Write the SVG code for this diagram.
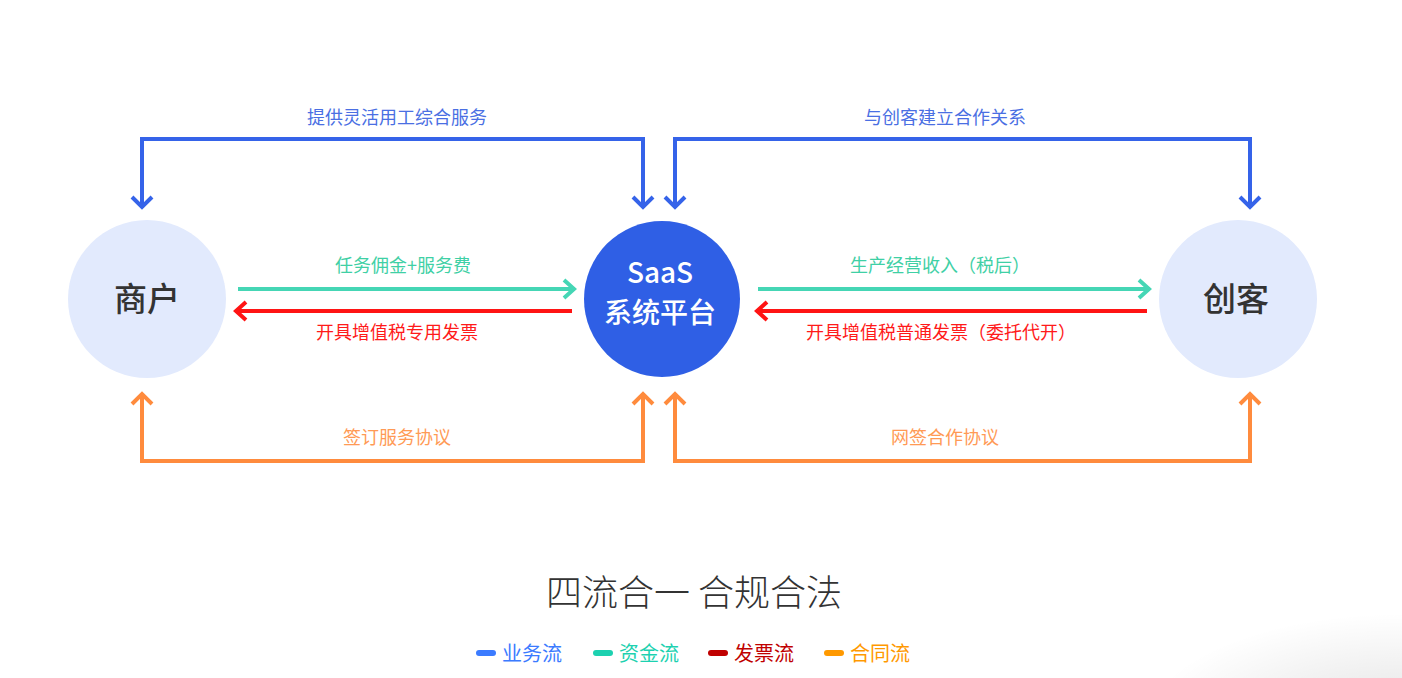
<svg xmlns="http://www.w3.org/2000/svg" width="1402" height="678" viewBox="0 0 1402 678">
<style>
.lbl{font-family:"Noto Sans CJK SC","Noto Sans",sans-serif;font-size:18px;text-anchor:middle}
.node{font-family:"Noto Sans CJK SC","Noto Sans",sans-serif;text-anchor:middle}
.ln{fill:none;stroke-width:4;stroke-linejoin:miter}
.blue{stroke:#3563e9}
.teal{stroke:#45d6b5}
.red{stroke:#ff1414}
.orange{stroke:#ff8b3d}
.leg{font-family:"Noto Sans CJK SC","Noto Sans",sans-serif;font-size:20px}
</style>
<defs>
<marker id="ab" markerUnits="userSpaceOnUse" markerWidth="30" markerHeight="30" viewBox="-15 -15 30 30" refX="0" refY="0" orient="auto"><path d="M-11,-10 L-1,0 L-11,10" fill="none" stroke="#3563e9" stroke-width="4"/></marker>
<marker id="at" markerUnits="userSpaceOnUse" markerWidth="30" markerHeight="30" viewBox="-15 -15 30 30" refX="0" refY="0" orient="auto"><path d="M-11,-9 L-1,0 L-11,9" fill="none" stroke="#45d6b5" stroke-width="4"/></marker>
<marker id="ar" markerUnits="userSpaceOnUse" markerWidth="30" markerHeight="30" viewBox="-15 -15 30 30" refX="0" refY="0" orient="auto"><path d="M-11,-9 L-1,0 L-11,9" fill="none" stroke="#ff1414" stroke-width="4"/></marker>
<marker id="ao" markerUnits="userSpaceOnUse" markerWidth="30" markerHeight="30" viewBox="-15 -15 30 30" refX="0" refY="0" orient="auto"><path d="M-11,-10 L-1,0 L-11,10" fill="none" stroke="#ff8b3d" stroke-width="4"/></marker>
<radialGradient id="sh" cx="1400" cy="730" r="260" gradientUnits="userSpaceOnUse" gradientTransform="translate(1400 730) scale(1 0.45) translate(-1400 -730)">
<stop offset="0" stop-color="#000" stop-opacity="0.12"/>
<stop offset="1" stop-color="#000" stop-opacity="0"/>
</radialGradient>
</defs>
<rect width="1402" height="678" fill="#ffffff"/>
<rect x="1100" y="600" width="302" height="78" fill="url(#sh)"/>

<g id="connectors">
<path class="ln blue" d="M643,208 V139 H142 V208" marker-end="url(#ab)"/>
<path class="ln blue" d="M643,139 V208" marker-end="url(#ab)"/>
<path class="ln blue" d="M675,208 V139 H1250 V208" marker-end="url(#ab)"/>
<path class="ln blue" d="M675,139 V208" marker-end="url(#ab)"/>
<path class="ln teal" d="M238,289 H575" marker-end="url(#at)"/>
<path class="ln red" d="M572,311 H235" marker-end="url(#ar)"/>
<path class="ln teal" d="M758,289 H1150" marker-end="url(#at)"/>
<path class="ln red" d="M1147,311 H756" marker-end="url(#ar)"/>
<path class="ln orange" d="M643,393 V461 H142 V393" marker-end="url(#ao)"/>
<path class="ln orange" d="M643,461 V393" marker-end="url(#ao)"/>
<path class="ln orange" d="M675,393 V461 H1250 V393" marker-end="url(#ao)"/>
<path class="ln orange" d="M675,461 V393" marker-end="url(#ao)"/>
<text class="lbl" x="397" y="124" fill="#4a6fe3">提供灵活用工综合服务</text>
<text class="lbl" x="945" y="124" fill="#4a6fe3">与创客建立合作关系</text>
<text class="lbl" x="403" y="272" fill="#3fd0a5">任务佣金+服务费</text>
<text class="lbl" x="397" y="339" fill="#ff1a1a">开具增值税专用发票</text>
<text class="lbl" x="940" y="272" fill="#3fd0a5">生产经营收入（税后）</text>
<text class="lbl" x="941" y="339" fill="#ff1a1a">开具增值税普通发票（委托代开）</text>
<text class="lbl" x="397" y="444" fill="#ff9a55">签订服务协议</text>
<text class="lbl" x="945" y="444" fill="#ff9a55">网签合作协议</text>
</g>

<g id="merchant">
<circle cx="147" cy="299" r="79" fill="#e2eafd"/>
<text class="node" x="147" y="311" font-size="33" fill="#333333" font-weight="500">商户</text>
</g>
<g id="saas">
<circle cx="662" cy="299" r="78" fill="#2f5fe5"/>
<text class="node" x="660" y="283" font-size="28" fill="#ffffff" font-weight="500">SaaS</text>
<text class="node" x="660" y="323" font-size="28" fill="#ffffff" font-weight="500">系统平台</text>
</g>
<g id="creator">
<circle cx="1238" cy="299" r="79" fill="#e2eafd"/>
<text class="node" x="1236" y="311" font-size="33" fill="#333333" font-weight="500">创客</text>
</g>

<g id="title">
<text class="node" x="694" y="606" font-size="36" fill="#333333" font-weight="300">四流合一 合规合法</text>
</g>
<g id="legend">
<rect x="476" y="650" width="20" height="6" rx="3" fill="#3b7bff"/>
<text class="leg" x="502" y="661" fill="#3b7bff">业务流</text>
<rect x="593" y="650" width="20" height="6" rx="3" fill="#1dd1b0"/>
<text class="leg" x="619" y="661" fill="#1dd1b0">资金流</text>
<rect x="708" y="650" width="20" height="6" rx="3" fill="#c00000"/>
<text class="leg" x="734" y="661" fill="#c00000">发票流</text>
<rect x="824" y="650" width="20" height="6" rx="3" fill="#ff9900"/>
<text class="leg" x="850" y="661" fill="#ff9900">合同流</text>
</g>
</svg>
